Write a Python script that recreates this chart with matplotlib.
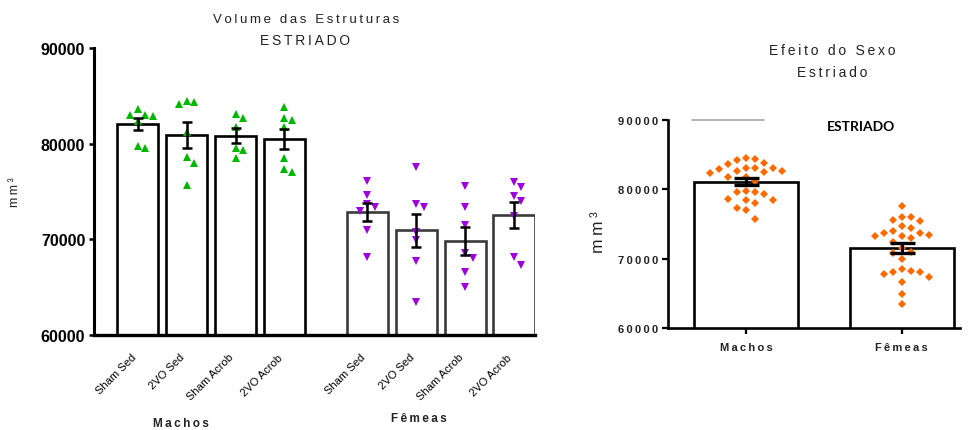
import numpy as np
import matplotlib
matplotlib.use('Agg')  # Use non-interactive backend
import matplotlib.pyplot as plt

plt.rcParams['font.family'] = ['Liberation Sans', 'DejaVu Sans']

# Striatum volume (mm3) per animal
groups = ['Sham Sed', '2VO Sed', 'Sham Acrob', '2VO Acrob']
sexes = ['Machos', 'Fêmeas']

machos_sham_sed = [82990, 82920, 83590, 82330, 82990, 79540, 79780]
machos_2vo_sed = [84320, 84140, 84480, 81180, 78570, 77970, 75710]
machos_sham_acrob = [82680, 83090, 81770, 79540, 79370, 78470]
machos_2vo_acrob = [83790, 82680, 82470, 81700, 78500, 77000, 77350]

femeas_sham_sed = [76060, 74660, 72990, 73340, 73700, 71000, 68180]
femeas_2vo_sed = [77590, 73410, 73650, 70800, 69900, 67760, 63480]
femeas_sham_acrob = [75600, 73340, 71530, 68050, 68540, 66620, 64980]
femeas_2vo_acrob = [75960, 75430, 74490, 74030, 72400, 68120, 67350]

y_ticks = [60000, 70000, 80000, 90000]

machos = [machos_sham_sed, machos_2vo_sed, machos_sham_acrob, machos_2vo_acrob]
femeas = [femeas_sham_sed, femeas_2vo_sed, femeas_sham_acrob, femeas_2vo_acrob]

GREEN = '#00b800'
PURPLE = '#a000e0'
ORANGE = '#ff6a00'

W, H = 971, 431


def spaced(text, sep='\u2009'):
    """Spread letters apart, like the tracking used in the original figure."""
    return sep.join(text)


def mean_sem(values):
    v = np.asarray(values, dtype=float)
    return v.mean(), v.std(ddof=1) / np.sqrt(len(v))


def swarm(ax, x, values, spacing_px):
    """Place points side by side so that markers do not overlap."""
    values = np.asarray(values, dtype=float)
    trans = ax.transData
    y_px = trans.transform(np.column_stack([np.full(len(values), x), values]))[:, 1]
    px_per_unit = trans.transform((1, 0))[0] - trans.transform((0, 0))[0]
    placed = []
    offsets = np.zeros(len(values))
    for i in np.argsort(-values):
        cands = [0.0]
        for k in range(1, 20):
            cands += [k * spacing_px, -k * spacing_px]
        for c in cands:
            if all((c - px) ** 2 + (y_px[i] - py) ** 2 >= spacing_px ** 2 for px, py in placed):
                break
        placed.append((c, y_px[i]))
        offsets[i] = c
    return x + offsets / px_per_unit


fig = plt.figure(figsize=(W / 100, H / 100), dpi=100)

# ---- Left panel: volume per group ----
ax1 = fig.add_axes([94.3 / W, (H - 336) / H, (534.5 - 94.3) / W, (336 - 49) / H])
ax1.set_xlim(-0.892, 8.12)
ax1.set_ylim(60000, 90000)

pos_m = np.arange(4)
pos_f = np.arange(4) + 4.7

for pos, data, edge, color, marker in [(pos_m, machos, 'black', GREEN, '^'),
                                       (pos_f, femeas, '#3a3a3a', PURPLE, 'v')]:
    stats = [mean_sem(d) for d in data]
    means = [s[0] for s in stats]
    sems = [s[1] for s in stats]
    ax1.bar(pos, means, width=0.84, color='white', edgecolor=edge, linewidth=1.9, zorder=2)
    ax1.errorbar(pos, means, yerr=sems, fmt='none', ecolor='black', elinewidth=1.8,
                 capsize=3.4, capthick=1.8, zorder=4)
    for p, d in zip(pos, data):
        xs = swarm(ax1, p, d, 7.5)
        ax1.plot(xs, d, linestyle='none', marker=marker, color=color, markersize=5.2,
                 markeredgewidth=0, zorder=3)

ax1.spines['top'].set_visible(False)
ax1.spines['right'].set_visible(False)
ax1.spines['left'].set_linewidth(2.2)
ax1.spines['bottom'].set_linewidth(2.4)
ax1.set_yticks(y_ticks)
ax1.set_yticklabels([str(v) for v in y_ticks], fontweight='bold', fontsize=11.5)
ax1.tick_params(axis='y', direction='out', length=3.5, width=1.8, pad=3)
ax1.set_xticks(np.concatenate([pos_m, pos_f]))
ax1.set_xticklabels(groups * 2, rotation=45, ha='right', fontsize=8)
ax1.tick_params(axis='x', length=0, pad=12)

fig.text(306 / W, 1 - 20 / H, spaced('Volume das Estruturas'), ha='center', va='center',
         fontsize=9.5, color='#222222')
fig.text(305 / W, 1 - 41 / H, spaced('ESTRIADO'), ha='center', va='center',
         fontsize=10, color='#222222')
fig.text(15 / W, 1 - 192 / H, spaced('mm³'), ha='center', va='center', rotation=90,
         fontsize=9, color='#222222')
fig.text(181 / W, 1 - 424 / H, spaced('Machos'), ha='center', va='center',
         fontsize=8.5, fontweight='bold', color='#222222')
fig.text(419 / W, 1 - 419 / H, spaced('Fêmeas'), ha='center', va='center',
         fontsize=8.5, fontweight='bold', color='#222222')

# ---- Right panel: pooled by sex ----
ax2 = fig.add_axes([667.7 / W, (H - 329.3) / H, (960 - 667.7) / W, (329.3 - 120.7) / H])
ax2.set_xlim(-0.502, 1.374)
ax2.set_ylim(60000, 90000)

pooled = [np.concatenate(machos), np.concatenate(femeas)]
stats2 = [mean_sem(d) for d in pooled]
ax2.bar([0, 1], [s[0] for s in stats2], width=0.667, color='white', edgecolor='black',
        linewidth=1.9, zorder=2)
ax2.errorbar([0, 1], [s[0] for s in stats2], yerr=[s[1] for s in stats2], fmt='none',
             ecolor='black', elinewidth=2.2, capsize=9, capthick=2.4, zorder=4)
for p, d in enumerate(pooled):
    xs = swarm(ax2, p, d, 9.0)
    ax2.plot(xs, d, linestyle='none', marker='D', color=ORANGE, markersize=4.2,
             markeredgewidth=0, zorder=3)

ax2.axhline(90000, xmin=0.083, xmax=0.33, color='#a8a8a8', linewidth=1.2, clip_on=False)
ax2.text(0.663, 0.97, 'ESTRIADO', transform=ax2.transAxes, ha='center', va='center',
         fontsize=10, fontweight='bold', family=['Lato', 'DejaVu Sans'])

ax2.spines['top'].set_visible(False)
ax2.spines['right'].set_visible(False)
ax2.spines['left'].set_linewidth(1.9)
ax2.spines['bottom'].set_linewidth(1.9)
ax2.set_yticks(y_ticks)
ax2.set_yticklabels([spaced(str(v)) for v in y_ticks], fontweight='bold', fontsize=8,
                    color='#222222')
ax2.tick_params(axis='y', direction='out', length=4, width=1.6, pad=3)
ax2.set_xticks([0, 1])
ax2.set_xticklabels([spaced(s) for s in sexes], fontweight='bold', fontsize=8,
                    color='#222222')
ax2.tick_params(axis='x', direction='out', length=4, width=1.6, pad=6)

fig.text(832 / W, 1 - 51 / H, spaced('Efeito do Sexo'), ha='center', va='center',
         fontsize=10, color='#222222')
fig.text(832 / W, 1 - 73 / H, spaced('Estriado'), ha='center', va='center',
         fontsize=10, color='#222222')
fig.text(598 / W, 1 - 232 / H, spaced('mm³'), ha='center', va='center', rotation=90,
         fontsize=12.5, color='#222222')

fig.savefig('out.png', dpi=100)
